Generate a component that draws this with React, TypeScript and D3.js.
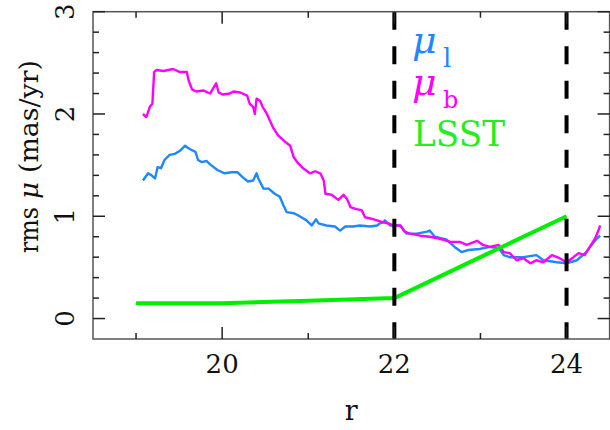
import React from "react";
import * as d3 from "d3";

// μ_l (blue)
const rL = [19.08,19.14,19.18,19.22,19.25,19.29,19.33,19.39,19.45,19.51,19.57,19.60,19.64,19.69,19.72,19.76,19.82,19.87,19.95,20.03,20.11,20.18,20.24,20.30,20.36,20.40,20.42,20.48,20.54,20.61,20.67,20.71,20.75,20.83,20.88,20.92,20.98,21.04,21.09,21.12,21.21,21.31,21.37,21.43,21.52,21.60,21.72,21.80,21.83,21.87,21.89,21.95,22.07,22.14,22.26,22.38,22.41,22.47,22.61,22.70,22.78,22.86,22.99,23.11,23.21,23.23,23.27,23.34,23.50,23.65,23.73,23.89,24.00,24.12,24.23,24.29,24.35,24.39];
const muL = [1.35,1.42,1.40,1.37,1.48,1.47,1.55,1.60,1.61,1.64,1.69,1.67,1.65,1.63,1.55,1.53,1.54,1.50,1.45,1.42,1.43,1.43,1.38,1.34,1.35,1.42,1.37,1.27,1.27,1.22,1.19,1.11,1.04,1.03,1.01,0.99,0.96,0.91,0.97,0.93,0.91,0.90,0.86,0.90,0.90,0.91,0.90,0.91,0.93,0.94,0.96,0.91,0.91,0.83,0.83,0.85,0.86,0.80,0.77,0.70,0.65,0.67,0.68,0.70,0.69,0.67,0.62,0.60,0.60,0.62,0.57,0.55,0.54,0.57,0.65,0.72,0.78,0.81];

// μ_b (magenta)
const rB = [19.08,19.12,19.16,19.19,19.21,19.24,19.32,19.43,19.51,19.59,19.61,19.65,19.70,19.78,19.86,19.93,19.96,20.01,20.09,20.13,20.21,20.29,20.32,20.36,20.38,20.40,20.44,20.47,20.52,20.59,20.65,20.73,20.79,20.83,20.88,20.94,21.02,21.08,21.14,21.18,21.20,21.27,21.35,21.41,21.45,21.49,21.56,21.62,21.66,21.72,21.80,21.87,21.93,21.99,22.07,22.12,22.18,22.30,22.41,22.53,22.65,22.76,22.84,22.96,23.03,23.11,23.21,23.27,23.34,23.42,23.50,23.58,23.65,23.73,23.83,23.92,24.00,24.08,24.14,24.21,24.27,24.33,24.37,24.39];
const muB = [2.00,1.97,2.07,2.10,2.41,2.43,2.42,2.44,2.41,2.41,2.33,2.24,2.22,2.23,2.20,2.30,2.21,2.19,2.20,2.22,2.21,2.18,2.10,2.07,2.00,2.15,2.13,2.07,2.00,1.87,1.79,1.73,1.69,1.58,1.52,1.47,1.42,1.44,1.42,1.35,1.22,1.21,1.16,1.21,1.17,1.09,1.07,1.06,0.99,0.98,0.96,0.94,0.93,0.91,0.91,0.85,0.83,0.81,0.80,0.78,0.75,0.75,0.72,0.76,0.72,0.70,0.72,0.65,0.64,0.57,0.59,0.54,0.57,0.55,0.62,0.59,0.55,0.60,0.64,0.62,0.70,0.78,0.86,0.91];

// LSST
const rLSST = [19, 20, 21, 22, 23, 24];
const muLSST = [0.15, 0.15, 0.175, 0.2, 0.6, 1.0];

const dashedR = [22, 24];
const xMajor = [20, 22, 24];
const xMinor = [19, 21, 23];
const yMajor = [0, 1, 2, 3];
const yMinor = [0.2, 0.4, 0.6, 0.8, 1.2, 1.4, 1.6, 1.8, 2.2, 2.4, 2.6, 2.8];

const W = 610, H = 430;
const L = 93, R = 609.6, T = 11.7, B = 339;

export default function App() {
  const x = d3.scaleLinear().domain([18.5, 24.5]).range([L, R]);
  const y = d3.scaleLinear().domain([-0.2, 3]).range([B, T]);
  const line = d3.line<[number, number]>().x(d => x(d[0])).y(d => y(d[1]));
  const pts = (a: number[], b: number[]) => a.map((v, i) => [v, b[i]] as [number, number]);
  const ff = { fontFamily: "'DejaVu Serif', 'Liberation Serif', serif" };
  const stroke = "#222";

  return (
    <svg width={W} height={H} style={{ position: "absolute", left: 0, top: 0, background: "#fff" }}>
      <defs>
        <clipPath id="plot"><rect x={L} y={T} width={R - L} height={B - T} /></clipPath>
      </defs>
      <g clipPath="url(#plot)">
        <path d={line(pts(rL, muL)) || ""} fill="none" stroke="#1E88FF" strokeWidth={2.4} strokeLinejoin="round" />
        <path d={line(pts(rB, muB)) || ""} fill="none" stroke="#FF00FF" strokeWidth={2.4} strokeLinejoin="round" />
        <path d={line(pts(rLSST, muLSST)) || ""} fill="none" stroke="#00EE00" strokeWidth={4} strokeLinejoin="round" />
        {dashedR.map(v => (
          <line key={v} x1={x(v)} x2={x(v)} y1={T} y2={B} stroke="#000" strokeWidth={4} strokeDasharray="18 16.5" />
        ))}
      </g>
      <rect x={L} y={T} width={R - L} height={B - T} fill="none" stroke="#555" strokeWidth={1.5} />
      {xMajor.map(v => (
        <g key={"xM" + v}>
          <line x1={x(v)} x2={x(v)} y1={B} y2={B - 12} stroke={stroke} strokeWidth={1.5} />
          <line x1={x(v)} x2={x(v)} y1={T} y2={T + 12} stroke={stroke} strokeWidth={1.5} />
          <text x={x(v)} y={373} textAnchor="middle" fontSize={26} fill="#111" style={ff}>{v}</text>
        </g>
      ))}
      {xMinor.map(v => (
        <g key={"xm" + v}>
          <line x1={x(v)} x2={x(v)} y1={B} y2={B - 6} stroke={stroke} strokeWidth={1.5} />
          <line x1={x(v)} x2={x(v)} y1={T} y2={T + 6} stroke={stroke} strokeWidth={1.5} />
        </g>
      ))}
      {yMajor.map(v => (
        <g key={"yM" + v}>
          <line x1={L} x2={L + 12} y1={y(v)} y2={y(v)} stroke={stroke} strokeWidth={1.5} />
          <line x1={R} x2={R - 12} y1={y(v)} y2={y(v)} stroke={stroke} strokeWidth={1.5} />
          <text transform={`translate(74,${y(v)}) rotate(-90)`} textAnchor="middle" fontSize={26} fill="#111" style={ff}>{v}</text>
        </g>
      ))}
      {yMinor.map(v => (
        <g key={"ym" + v}>
          <line x1={L} x2={L + 6} y1={y(v)} y2={y(v)} stroke={stroke} strokeWidth={1.5} />
          <line x1={R} x2={R - 6} y1={y(v)} y2={y(v)} stroke={stroke} strokeWidth={1.5} />
        </g>
      ))}
      <text x={(L + R) / 2} y={420} textAnchor="middle" fontSize={27} fill="#111" style={ff}>r</text>
      <g transform="translate(38,0) rotate(-90)" fontSize={26} fill="#111">
        <text x={-253} y={0} style={ff} textLength={46} lengthAdjust="spacingAndGlyphs">rms</text>
        <text x={-199} y={0} style={ff} fontStyle="italic" textLength={17} lengthAdjust="spacingAndGlyphs">μ</text>
        <text x={-173} y={0} style={ff} textLength={113} lengthAdjust="spacingAndGlyphs">(mas/yr)</text>
      </g>
      <g>
        <text x={412} y={53} fill="#1E88FF" fontStyle="italic" fontSize={38} style={ff}>μ</text>
        <text x={443} y={67} fill="#1E88FF" fontSize={26} style={ff}>l</text>
        <text x={412} y={95} fill="#FF00FF" fontStyle="italic" fontSize={38} style={ff}>μ</text>
        <text x={443} y={108} fill="#FF00FF" fontSize={24} style={ff}>b</text>
        <text x={413} y={146} fill="#22EE22" fontSize={36} style={ff} textLength={92} lengthAdjust="spacingAndGlyphs">LSST</text>
      </g>
    </svg>
  );
}
